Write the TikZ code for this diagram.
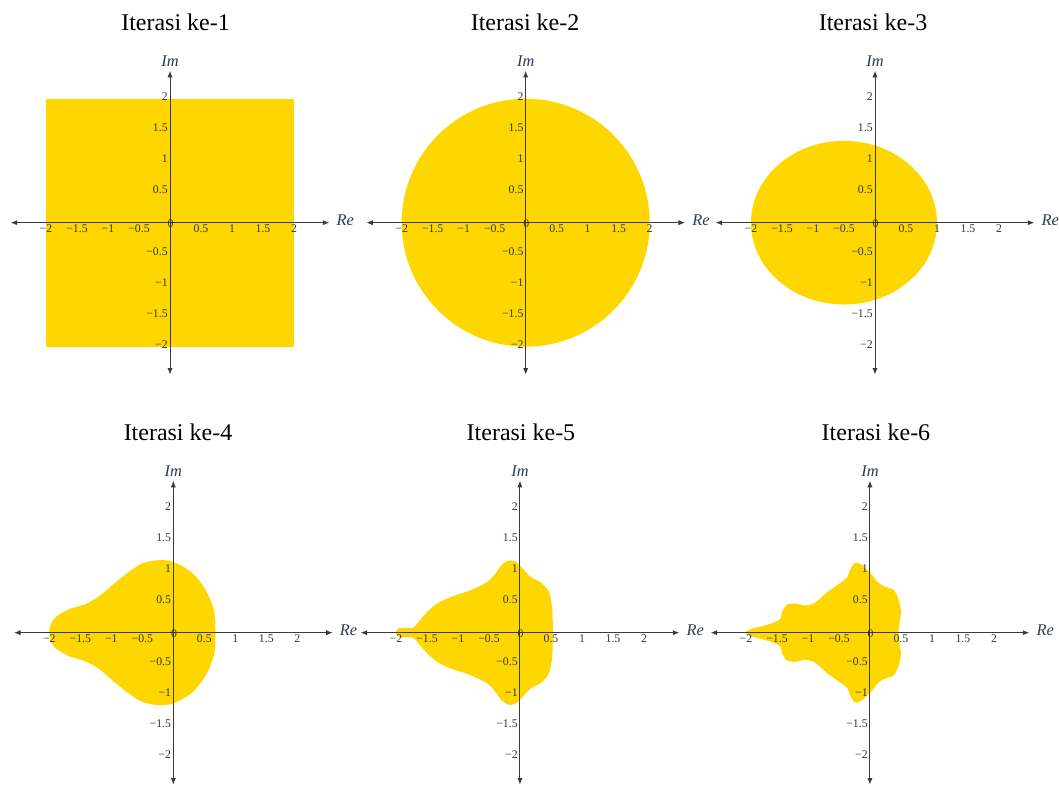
\documentclass[tikz,border=0pt]{standalone}
\usepackage{fontspec}
\setmainfont{Liberation Serif}
\usepackage{tikz}
\usetikzlibrary{arrows.meta, positioning}
\definecolor{mgold}{HTML}{FFD700}
\definecolor{maxis}{HTML}{3A3A3A}
\definecolor{mtick}{HTML}{333333}
\definecolor{mlabel}{HTML}{2E3A52}
\tikzset{
  region/.style={fill=mgold, draw=none},
  axis/.style={{Latex[length=3pt,width=2.4pt]}-{Latex[length=3pt,width=2.4pt]},
               line width=0.45pt, maxis},
  ticklbl/.style={text=mtick, inner sep=0pt, font=\fontsize{5.4}{6}\selectfont},
  axlbl/.style={text=mlabel, inner sep=0pt, font=\fontsize{7.5}{9}\selectfont\itshape},
  title/.style={inner sep=0pt, font=\fontsize{11}{13}\selectfont},
}
% axes of one plane, #1 = prefix of the names
\newcommand{\cplane}[1]{%
  \coordinate (#1-w) at (-2.57,0);
  \coordinate (#1-e) at (2.57,0);
  \coordinate (#1-s) at (0,-2.45);
  \coordinate (#1-n) at (0,2.45);
  \draw[axis] (#1-w) -- (#1-e);
  \draw[axis] (#1-s) -- (#1-n);
  \foreach \val/\lbl [count=\k] in {-2/−2,-1.5/−1.5,-1/−1,-0.5/−0.5,0.5/0.5,1/1,1.5/1.5,2/2} {
    \node[ticklbl] (#1-x\k) at (\val,-0.1) {\lbl};
    \node[ticklbl, anchor=east] (#1-y\k) at (-0.03,\val+0.035) {\lbl};
  }
  \node[ticklbl] (#1-o) at (0.01,-0.02) {0};
  \node[axlbl, anchor=base] (#1-im) at (0,2.52) {Im};
  \node[axlbl, anchor=west] (#1-re) at (2.68,0.04) {Re};
}

\begin{document}
\begin{tikzpicture}
  \useasboundingbox (0,0) rectangle (17.081,12.694);

  \node[title] (t1) at (2.831,12.339) {Iterasi ke-1};
  \node[title] (t2) at (8.468,12.339) {Iterasi ke-2};
  \node[title] (t3) at (14.081,12.339) {Iterasi ke-3};
  \node[title] (t4) at (2.871,5.726) {Iterasi ke-4};
  \node[title] (t5) at (8.403,5.726) {Iterasi ke-5};
  \node[title] (t6) at (14.129,5.726) {Iterasi ke-6};

  \begin{scope}[shift={(2.742,9.102)}]
    \fill[region] (-2,-2) rectangle (2,2);
    \cplane{p1}
  \end{scope}

  \begin{scope}[shift={(8.479,9.102)}]
    \fill[region] (0,0) circle[radius=2];
    \cplane{p2}
  \end{scope}

  \begin{scope}[shift={(14.113,9.102)}]
    \fill[region] (-0.5,0) ellipse[x radius=1.5, y radius=1.32];
    \cplane{p3}
  \end{scope}

  \begin{scope}[shift={(2.796,2.489)}]
    \fill[region] plot[smooth cycle] coordinates {
      (0.68,0) (0.655,0.36) (0.52,0.69) (0.3,0.97) (0,1.14) (-0.24,1.17)
      (-0.54,1.1) (-0.9,0.84) (-1.18,0.6) (-1.42,0.46) (-1.68,0.38)
      (-1.9,0.25) (-1.985,0.12) (-2,0) (-1.985,-0.12) (-1.9,-0.25)
      (-1.68,-0.38) (-1.42,-0.46) (-1.18,-0.6) (-0.9,-0.84) (-0.54,-1.1)
      (-0.24,-1.17) (0,-1.14) (0.3,-0.97) (0.52,-0.69) (0.655,-0.36)};
    \cplane{p4}
  \end{scope}

  \begin{scope}[shift={(8.387,2.489)}]
    \fill[region] plot[smooth cycle] coordinates {
      (0.53,0) (0.52,0.38) (0.47,0.65) (0.35,0.8) (0.16,0.91) (0.03,1.05)
      (-0.08,1.15) (-0.19,1.16) (-0.3,1.09) (-0.4,0.95) (-0.54,0.81)
      (-0.81,0.68) (-1.08,0.59) (-1.32,0.48) (-1.5,0.33) (-1.64,0.17)
      (-1.72,0.08) (-1.83,0.075) (-1.96,0.07) (-2,0)
      (-1.96,-0.07) (-1.83,-0.075) (-1.72,-0.08) (-1.64,-0.17) (-1.5,-0.33)
      (-1.32,-0.48) (-1.08,-0.59) (-0.81,-0.68) (-0.54,-0.81) (-0.4,-0.95)
      (-0.3,-1.09) (-0.19,-1.16) (-0.08,-1.15) (0.03,-1.05) (0.16,-0.91)
      (0.35,-0.8) (0.47,-0.65) (0.52,-0.38)};
    \cplane{p5}
  \end{scope}

  \begin{scope}[shift={(14.032,2.489)}]
    \fill[region] plot[smooth cycle] coordinates {
      (0.46,0) (0.475,0.16) (0.5,0.35) (0.46,0.54) (0.38,0.69) (0.22,0.75)
      (0.11,0.83) (0.03,0.94) (-0.05,1.02) (-0.145,1.1) (-0.23,1.13)
      (-0.31,1.04) (-0.37,0.89) (-0.54,0.76) (-0.7,0.645) (-0.89,0.48)
      (-1.05,0.44) (-1.21,0.47) (-1.34,0.45) (-1.41,0.35) (-1.45,0.22)
      (-1.56,0.16) (-1.72,0.11) (-1.94,0.05) (-2.02,0)
      (-1.94,-0.05) (-1.72,-0.11) (-1.56,-0.16) (-1.45,-0.22) (-1.41,-0.35)
      (-1.34,-0.45) (-1.21,-0.47) (-1.05,-0.44) (-0.89,-0.48) (-0.7,-0.645)
      (-0.54,-0.76) (-0.37,-0.89) (-0.31,-1.04) (-0.23,-1.13) (-0.145,-1.1)
      (-0.05,-1.02) (0.03,-0.94) (0.11,-0.83) (0.22,-0.75) (0.38,-0.69)
      (0.46,-0.54) (0.5,-0.35) (0.475,-0.16)};
    \cplane{p6}
  \end{scope}
\end{tikzpicture}
\end{document}
